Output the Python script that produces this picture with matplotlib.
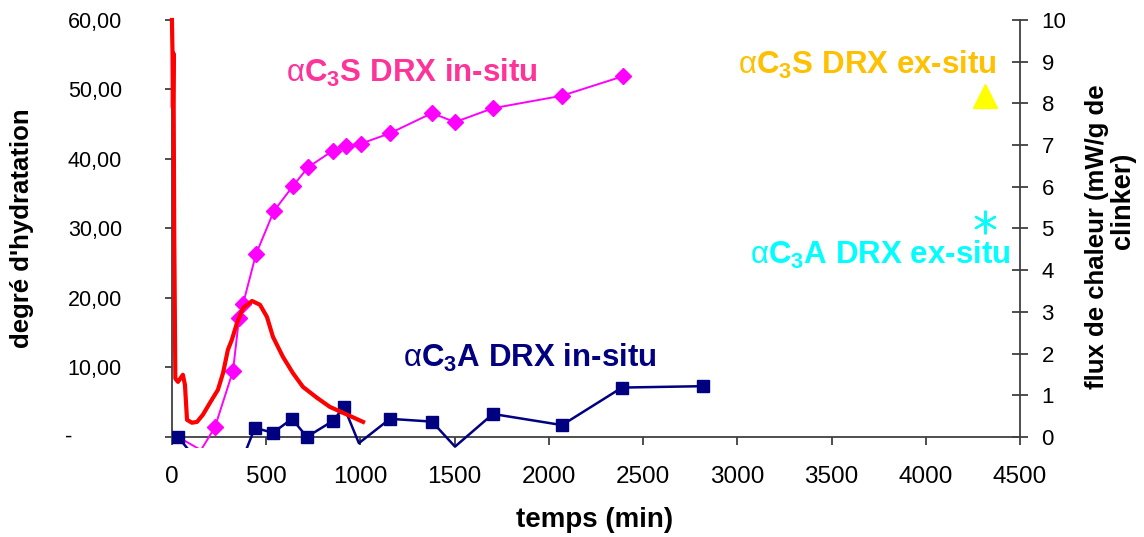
import numpy as np
import matplotlib
matplotlib.use('Agg')
import matplotlib.pyplot as plt

plt.rcParams['font.family'] = ['Liberation Sans', 'DejaVu Sans']
plt.rcParams['mathtext.fontset'] = 'custom'
plt.rcParams['mathtext.rm'] = 'Liberation Sans:bold'
plt.rcParams['mathtext.bf'] = 'Liberation Sans:bold'
plt.rcParams['mathtext.it'] = 'Liberation Sans'

# alpha C3S in-situ (degre d'hydratation, %)
c3s_t = [32, 154, 228, 324, 356, 377, 446, 541, 642, 722, 854, 923, 1003, 1157,
         1380, 1502, 1703, 2070, 2393]
c3s_y = [0, -1.9, 1.4, 9.5, 17.1, 19.1, 26.3, 32.5, 36.1, 38.8, 41.2, 41.9, 42.2,
         43.7, 46.6, 45.3, 47.3, 49.1, 51.9]
c3s_marks = list(range(2, len(c3s_t)))

# alpha C3A in-situ
c3a_t = [32, 294, 440, 536, 637, 716, 854, 913, 992, 1157, 1380, 1502, 1703, 2070,
         2388, 2818]
c3a_y = [0, -8.7, 1.3, 0.6, 2.6, 0, 2.3, 4.3, -0.9, 2.6, 2.2, -1.4, 3.3, 1.7, 7.1, 7.3]
c3a_marks = [0, 2, 3, 4, 5, 6, 7, 9, 10, 12, 13, 14, 15]

# heat flux (mW/g de clinker)
flux_t = [0, 3, 5, 8, 12, 18, 32, 58, 69, 80, 106, 133, 164, 202, 244, 271, 297,
          318, 345, 377, 425, 467, 504, 536, 589, 642, 695, 769, 838, 907, 1014]
flux_y = [10.0, 9.2, 7.9, 9.2, 5.0, 1.4, 1.32, 1.49, 1.25, 0.41, 0.34, 0.36, 0.53,
          0.82, 1.13, 1.53, 2.09, 2.33, 2.73, 3.09, 3.26, 3.17, 2.88, 2.40, 1.92,
          1.53, 1.20, 0.94, 0.72, 0.58, 0.36]

# ex-situ
exc3s_t, exc3s_y = [4314], [49.0]
exc3a_t, exc3a_y = [4314], [30.9]

left_ticks = [0, 10, 20, 30, 40, 50, 60]
left_labels = ['', '10,00', '20,00', '30,00', '40,00', '50,00', '60,00']
x_ticks = list(range(0, 4501, 500))

fig = plt.figure(figsize=(11.44, 5.37), dpi=100)
ax = fig.add_axes([0.1503, 0.1657, 0.7413, 0.7971])
ax2 = ax.twinx()

ax.plot(c3s_t, c3s_y, color='#FF00FF', lw=1.4, marker='D', ms=8.5,
        markevery=c3s_marks, zorder=3)
ax.plot(c3a_t, c3a_y, color='#000080', lw=1.8, marker='s', ms=9,
        markevery=c3a_marks, zorder=4)
ax.plot(exc3s_t, exc3s_y, ls='none', marker='^', ms=17, color='#FFFF00', clip_on=False)
ax.plot(exc3a_t, exc3a_y, ls='none', marker=(6, 2, 0), ms=17, mew=1.6,
        color='#00FFFF', clip_on=False)
ax2.plot(flux_t, flux_y, color='#FF0000', lw=3, clip_on=False)

ax.set_xlim(0, 4500)
ax.set_ylim(-1.6, 60)
ax2.set_ylim(-1.6 / 6, 10)

for s in ['top', 'right']:
    ax.spines[s].set_visible(False)
for s in ['top', 'left', 'bottom']:
    ax2.spines[s].set_visible(False)
ax.spines['bottom'].set_position(('data', 0))
ax.spines['left'].set_bounds(0, 60)
ax2.spines['right'].set_bounds(0, 10)
for sp in [ax.spines['left'], ax.spines['bottom'], ax2.spines['right']]:
    sp.set_color('#404040')
    sp.set_linewidth(1.3)

ax.set_xticks(x_ticks)
ax.set_xticklabels([str(v) for v in x_ticks])
ax.set_yticks(left_ticks)
ax.set_yticklabels(left_labels)
ax.tick_params(axis='x', direction='out', length=6, width=1.3, color='#404040',
               pad=15, labelsize=17.5)
ax.tick_params(axis='y', direction='out', length=5, width=1.3, color='#404040',
               pad=31, labelsize=15.5)
ax2.set_yticks(range(0, 11))
ax2.tick_params(axis='y', direction='inout', length=11, width=1.3, color='#404040',
                pad=10, labelsize=16)
ax.text(-0.122, 0, '-', transform=ax.get_yaxis_transform(), ha='center',
        va='center', fontsize=16)

fig.text(0.019, 0.575, "degré d'hydratation", rotation=90, ha='center', va='center',
         fontsize=18.5, fontweight='bold')
fig.text(0.959, 0.56, 'flux de chaleur (mW/g de', rotation=90,
         ha='center', va='center', fontsize=18.5, fontweight='bold')
fig.text(0.9815, 0.626, 'clinker)', rotation=90,
         ha='center', va='center', fontsize=19.5, fontweight='bold')
fig.text(0.52, 0.032, 'temps (min)', ha='center', va='center', fontsize=20,
         fontweight='bold')

ax.text(1274, 52.4, r'$\mathit{\alpha}$C$_3$S DRX in-situ', color='#FF3399',
        fontsize=22.5, fontweight='bold', ha='center', va='center')
ax.text(4378, 53.5, r'$\mathit{\alpha}$C$_3$S DRX ex-situ', color='#FFC000',
        fontsize=22.5, fontweight='bold', ha='right', va='center')
ax.text(4447, 26.2, r'$\mathit{\alpha}$C$_3$A DRX ex-situ', color='#00FFFF',
        fontsize=22.5, fontweight='bold', ha='right', va='center', clip_on=False)
ax.text(1900, 11.4, r'$\mathit{\alpha}$C$_3$A DRX in-situ', color='#000080',
        fontsize=22.5, fontweight='bold', ha='center', va='center')

fig.savefig('out.png', dpi=100)
